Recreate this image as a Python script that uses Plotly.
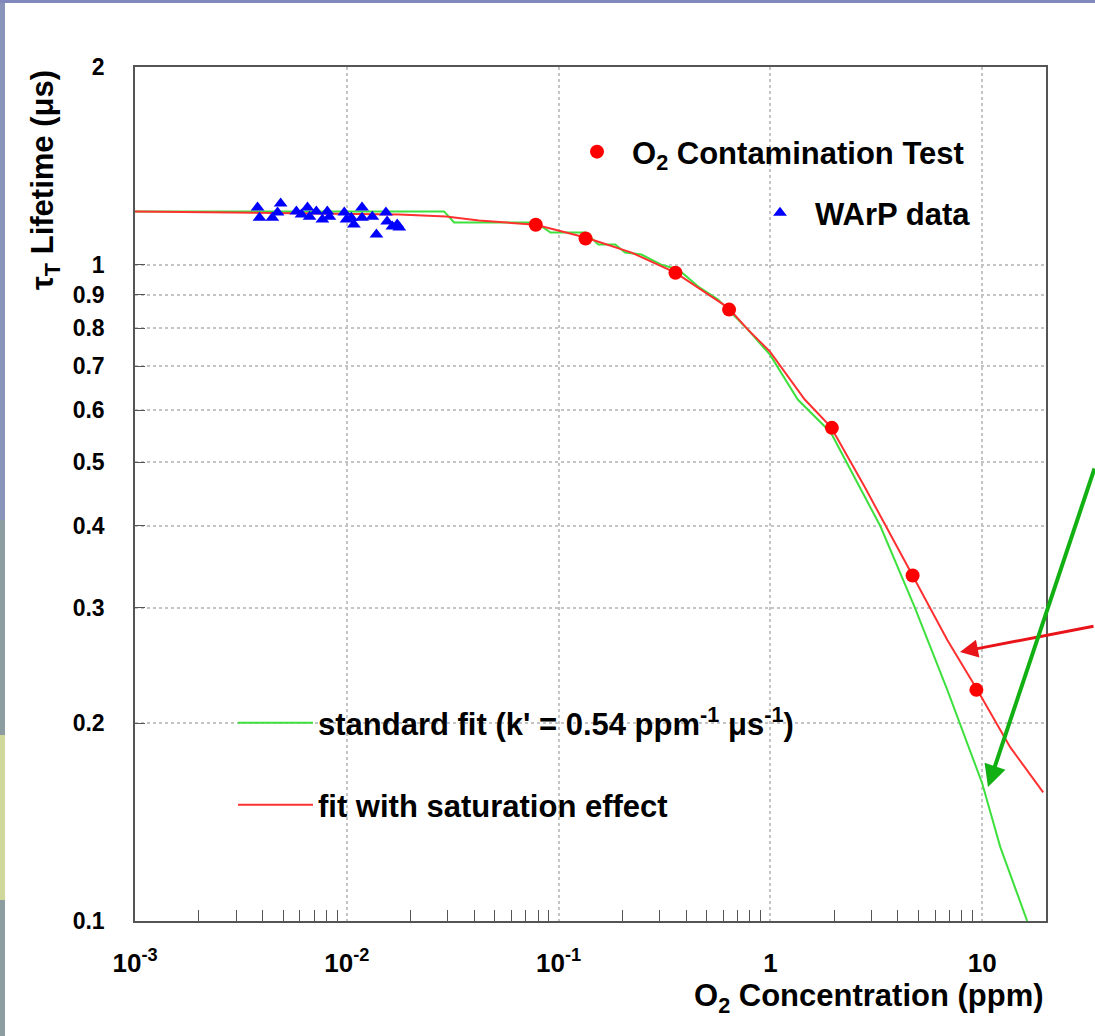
import plotly.graph_objects as go

# ---------------- data ----------------
o2_conc = [0.078, 0.134, 0.356, 0.638, 1.95, 4.69, 9.38]
o2_tau = [1.15, 1.096, 0.972, 0.854, 0.564, 0.336, 0.225]

warp_conc = [0.00379, 0.00387, 0.00445, 0.00471, 0.00487, 0.00578, 0.00611, 0.00652,
             0.00667, 0.00718, 0.00767, 0.00809, 0.00828, 0.00973, 0.00996, 0.0105,
             0.0108, 0.0118, 0.0118, 0.0132, 0.0138, 0.0153, 0.0155, 0.0164, 0.0173, 0.0177]
warp_tau = [1.222, 1.179, 1.179, 1.200, 1.239, 1.205, 1.192, 1.222,
            1.183, 1.205, 1.171, 1.205, 1.183, 1.200, 1.171, 1.179,
            1.151, 1.222, 1.179, 1.183, 1.111, 1.200, 1.163, 1.143, 1.151, 1.139]

std_fit_conc = [0.001, 0.0288, 0.0321, 0.078, 0.0916, 0.134, 0.154, 0.185, 0.206, 0.246,
                0.305, 0.367, 0.456, 0.566, 0.652, 0.783, 0.995, 1.346, 1.927, 3.31,
                4.79, 6.84, 10.0, 12.16, 16.3]
std_fit_tau = [1.205, 1.205, 1.159, 1.159, 1.119, 1.119, 1.073, 1.073, 1.043, 1.036,
               1.0, 0.983, 0.926, 0.885, 0.845, 0.796, 0.729, 0.623, 0.555, 0.399,
               0.301, 0.225, 0.162, 0.1297, 0.1]

sat_fit_conc = [0.001, 0.0028, 0.0177, 0.0294, 0.0421, 0.078, 0.134, 0.221, 0.356, 0.631,
                0.783, 0.995, 1.452, 1.927, 2.78, 4.69, 6.84, 9.47, 13.55, 19.4]
sat_fit_tau = [1.205, 1.200, 1.192, 1.184, 1.167, 1.15, 1.100, 1.043, 0.972, 0.860,
               0.796, 0.737, 0.623, 0.566, 0.459, 0.336, 0.268, 0.225, 0.184, 0.157]

y_tick_vals = [0.1, 0.2, 0.3, 0.4, 0.5, 0.6, 0.7, 0.8, 0.9, 1, 2]
y_tick_text = ["0.1", "0.2", "0.3", "0.4", "0.5", "0.6", "0.7", "0.8", "0.9", "1", "2"]
x_tick_vals = [0.001, 0.01, 0.1, 1, 10]
x_tick_text = ["10<sup>-3</sup>", "10<sup>-2</sup>", "10<sup>-1</sup>", "1", "10"]
x_minor_vals = [m * d for d in [0.001, 0.01, 0.1, 1, 10] for m in range(2, 10) if m * d <= 20]

# ---------------- styling ----------------
FONT = "Liberation Sans, Arial, sans-serif"
W, H = 1095, 1036
L, R, T, B = 135, 49, 67, 115
PW, PH = W - L - R, H - T - B


def px(xp):
    return (xp - L) / PW


def py(yp):
    return (H - B - yp) / PH


fig = go.Figure()

fig.add_trace(go.Scatter(x=std_fit_conc, y=std_fit_tau, mode="lines",
                         line=dict(color="#3ee03e", width=2),
                         name="standard fit (k' = 0.54 ppm<sup>-1</sup> \u03bcs<sup>-1</sup>)",
                         legend="legend3"))
fig.add_trace(go.Scatter(x=sat_fit_conc, y=sat_fit_tau, mode="lines",
                         line=dict(color="#ff3030", width=2),
                         name="fit with saturation effect", legend="legend4"))
fig.add_trace(go.Scatter(x=warp_conc, y=warp_tau, mode="markers",
                         marker=dict(symbol="triangle-up", size=12, color="#0000ff"),
                         name="WArP data", legend="legend2"))
fig.add_trace(go.Scatter(x=o2_conc, y=o2_tau, mode="markers",
                         marker=dict(symbol="circle", size=14, color="#ff0000"),
                         name="O<sub>2</sub> Contamination Test", legend="legend"))
# overlay axis for minor x ticks
fig.add_trace(go.Scatter(x=[0.001, 20], y=[0.1, 0.1], mode="markers", xaxis="x2",
                         marker=dict(opacity=0), showlegend=False, hoverinfo="skip"))

axis_font = dict(family=FONT, size=23, color="black", weight="bold")
xaxis_font = dict(family=FONT, size=26, color="black", weight="bold")
leg_font = dict(family=FONT, size=31, color="black", weight="bold")
fig.update_layout(
    width=W, height=H,
    margin=dict(l=L, r=R, t=T, b=B),
    paper_bgcolor="white", plot_bgcolor="white",
    xaxis=dict(type="log", range=[-3, 1.301], tickvals=x_tick_vals, ticktext=x_tick_text,
               tickfont=xaxis_font, ticks="", showgrid=True, gridcolor="#c4c4c4",
               griddash="dot", gridwidth=1.5, showline=True, linecolor="#555",
               linewidth=1.5, mirror=True, zeroline=False, ticklabelstandoff=18),
    xaxis2=dict(type="log", range=[-3, 1.301], overlaying="x", tickvals=x_minor_vals,
                ticks="inside", ticklen=11, tickcolor="#555", tickwidth=1,
                showticklabels=False, showgrid=False, showline=False, side="bottom",
                matches="x"),
    yaxis=dict(type="log", range=[-1, 0.30103], tickvals=y_tick_vals, ticktext=y_tick_text,
               tickfont=axis_font, ticks="inside", ticklen=10, tickcolor="#555",
               showgrid=True, gridcolor="#c4c4c4", griddash="dot", gridwidth=1.5,
               showline=True, linecolor="#555", linewidth=1.5, mirror=True,
               zeroline=False, ticklabelstandoff=24),
    legend=dict(x=px(562), y=py(152), xanchor="left", yanchor="middle", itemwidth=60,
                bgcolor="rgba(0,0,0,0)", font=leg_font),
    legend2=dict(x=px(745), y=py(213), xanchor="left", yanchor="middle", itemwidth=60,
                 bgcolor="rgba(0,0,0,0)", font=leg_font),
    legend3=dict(x=px(233), y=py(723), xanchor="left", yanchor="middle", itemwidth=75,
                 bgcolor="rgba(0,0,0,0)", font=leg_font),
    legend4=dict(x=px(233), y=py(805), xanchor="left", yanchor="middle", itemwidth=75,
                 bgcolor="rgba(0,0,0,0)", font=leg_font),
    showlegend=True,
)

# axis titles
fig.add_annotation(text="\u03c4<sub>T</sub> Lifetime (\u03bcs)", textangle=-90,
                   xref="paper", yref="paper", x=px(45), y=py(68), xanchor="center",
                   yanchor="top", showarrow=False,
                   font=dict(family=FONT, size=31, color="black", weight="bold"))
fig.add_annotation(text="O<sub>2</sub> Concentration (ppm)",
                   xref="paper", yref="paper", x=1.0, y=py(998), xanchor="right",
                   yanchor="middle", showarrow=False,
                   font=dict(family=FONT, size=31, color="black", weight="bold"))

# slide arrows
fig.add_annotation(xref="paper", yref="paper", x=px(960), y=py(652), ax=135, ay=-26,
                   text="", showarrow=True, arrowhead=2, arrowsize=1.2, arrowwidth=3,
                   arrowcolor="#e8141a")
fig.add_annotation(xref="paper", yref="paper", x=px(988), y=py(787), ax=112, ay=-320,
                   text="", showarrow=True, arrowhead=2, arrowsize=1.1, arrowwidth=4,
                   arrowcolor="#12b012")

# slide border decoration
fig.add_shape(type="rect", xref="paper", yref="paper", x0=px(-5), x1=px(5), y0=py(1040), y1=py(-5),
              fillcolor="#8a93b8", line_width=0, layer="above")
fig.add_shape(type="rect", xref="paper", yref="paper", x0=px(-5), x1=px(1100), y0=py(3), y1=py(-5),
              fillcolor="#8088bc", line_width=0, layer="above")
fig.add_shape(type="rect", xref="paper", yref="paper", x0=px(-5), x1=px(5), y0=py(1040), y1=py(520),
              fillcolor="#8d9ca0", line_width=0, layer="above")
fig.add_shape(type="rect", xref="paper", yref="paper", x0=px(-5), x1=px(5), y0=py(900), y1=py(735),
              fillcolor="#cfd89a", line_width=0, layer="above")

fig.write_html("out.html", post_script="document.body.style.margin='0';",
               config={"displayModeBar": False})
